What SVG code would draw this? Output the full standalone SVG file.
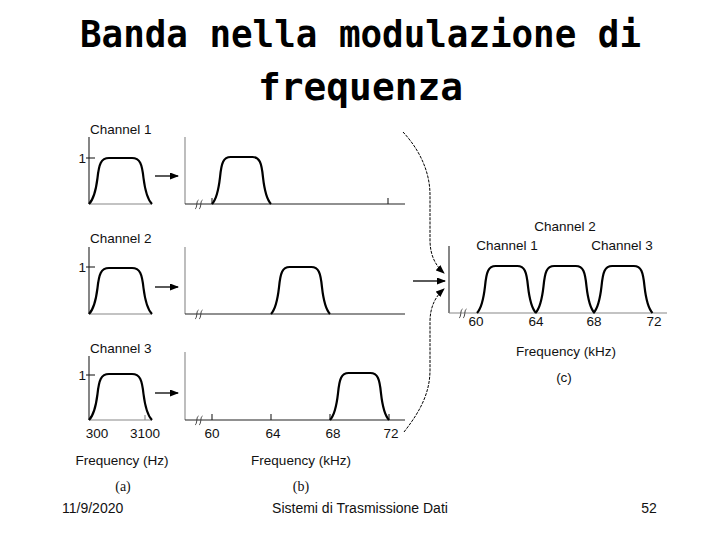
<svg xmlns="http://www.w3.org/2000/svg" width="720" height="540" viewBox="0 0 720 540">
<defs>
<style>
.lbl{font-family:"Liberation Sans",Arial,sans-serif;font-size:13.5px;fill:#111}
.cap{font-family:"Liberation Serif","Times New Roman",serif;font-size:14px;fill:#111}
.foot{font-family:"Liberation Sans",Arial,sans-serif;font-size:14px;fill:#111}
.title{font-family:"DejaVu Sans Mono",monospace;font-weight:bold;font-size:38px;fill:#000}
.pulse{fill:none;stroke:#000;stroke-width:2.2;stroke-linejoin:round}
.ax{stroke:#222;stroke-width:1.1;fill:none}
.axg{stroke:#888;stroke-width:1.1;fill:none}
.brk{stroke:#333;stroke-width:0.9;fill:none}
.arr{stroke:#000;stroke-width:1.3;fill:none}
.carr{stroke:#000;stroke-width:1;fill:none;stroke-dasharray:3 1.2}
</style>
<path id="pA" d="M0,0 C4,-4 7,-14 8.5,-26 C10,-40 12,-46 20,-46 L43,-46 C51,-46 53,-40 54.5,-26 C56,-14 59,-4 63,0"/>
<path id="pB" d="M0,0 C3.8,-4 6.6,-14.3 8,-26.6 C9.4,-40.9 11.3,-47 18.7,-47 L40.3,-47 C47.7,-47 49.6,-40.9 51,-26.6 C52.4,-14.3 55.2,-4 59,0"/>
<marker id="ah" markerWidth="9" markerHeight="7" refX="8" refY="3.5" orient="auto" markerUnits="userSpaceOnUse">
<path d="M0,0 L9,3.5 L0,7 Z" fill="#000"/>
</marker>
</defs>
<rect width="720" height="540" fill="#fff"/>

<g id="title">
<text class="title" x="360.5" y="47" text-anchor="middle" textLength="561" lengthAdjust="spacingAndGlyphs">Banda nella modulazione di</text>
<text class="title" x="360.5" y="100" text-anchor="middle" textLength="205" lengthAdjust="spacingAndGlyphs">frequenza</text>
</g>

<g id="panel-a-ch1">
<text class="lbl" x="90" y="134">Channel 1</text>
<line class="ax" x1="89" y1="137" x2="89" y2="204"/>
<line class="axg" x1="89" y1="204" x2="152" y2="204"/>
<line class="ax" x1="86" y1="158" x2="95" y2="158"/>
<text class="lbl" x="86" y="162.5" text-anchor="end">1</text>
<use href="#pA" class="pulse" transform="translate(89,204)"/>
</g>
<g id="panel-a-ch2">
<text class="lbl" x="90" y="243">Channel 2</text>
<line class="ax" x1="89" y1="247" x2="89" y2="314"/>
<line class="axg" x1="89" y1="314" x2="152" y2="314"/>
<line class="ax" x1="86" y1="267" x2="95" y2="267"/>
<text class="lbl" x="86" y="271.5" text-anchor="end">1</text>
<use href="#pA" class="pulse" transform="translate(89,314)"/>
</g>
<g id="panel-a-ch3">
<text class="lbl" x="90" y="353">Channel 3</text>
<line class="ax" x1="89" y1="356" x2="89" y2="420"/>
<line class="axg" x1="89" y1="420" x2="152" y2="420"/>
<line class="axg" x1="145" y1="415" x2="145" y2="420"/>
<line class="ax" x1="86" y1="375" x2="95" y2="375"/>
<text class="lbl" x="86" y="379.5" text-anchor="end">1</text>
<use href="#pA" class="pulse" transform="translate(89,420)"/>
<text class="lbl" x="97" y="438" text-anchor="middle">300</text>
<text class="lbl" x="145" y="438" text-anchor="middle">3100</text>
<text class="lbl" x="122" y="465" text-anchor="middle">Frequency (Hz)</text>
<text class="cap" x="123" y="491" text-anchor="middle">(a)</text>
</g>

<g id="panel-b-ch1">
<line class="axg" x1="185" y1="137" x2="185" y2="204"/>
<line class="ax" x1="185" y1="204" x2="405" y2="204"/>
<path class="brk" d="M195,209 C197.5,208 196,201 198.5,200 M199,209 C201.5,208 200,201 202.5,200"/>
<line class="ax" x1="212" y1="198" x2="212" y2="204"/>
<line class="ax" x1="388" y1="198" x2="388" y2="204"/>
<use href="#pB" class="pulse" transform="translate(212,204)"/>
</g>
<g id="panel-b-ch2">
<line class="axg" x1="185" y1="247" x2="185" y2="314"/>
<line class="ax" x1="185" y1="314" x2="405" y2="314"/>
<path class="brk" d="M195,319 C197.5,318 196,311 198.5,310 M199,319 C201.5,318 200,311 202.5,310"/>
<use href="#pB" class="pulse" transform="translate(271,314)"/>
</g>
<g id="panel-b-ch3">
<line class="axg" x1="185" y1="352" x2="185" y2="420"/>
<line class="ax" x1="185" y1="420" x2="405" y2="420"/>
<path class="brk" d="M195,425 C197.5,424 196,417 198.5,416 M199,425 C201.5,424 200,417 202.5,416"/>
<line class="ax" x1="212" y1="414" x2="212" y2="420"/>
<line class="ax" x1="271" y1="414" x2="271" y2="420"/>
<line class="ax" x1="330" y1="414" x2="330" y2="420"/>
<line class="ax" x1="389" y1="414" x2="389" y2="420"/>
<use href="#pB" class="pulse" transform="translate(330,420)"/>
<text class="lbl" x="212" y="438" text-anchor="middle">60</text>
<text class="lbl" x="273" y="438" text-anchor="middle">64</text>
<text class="lbl" x="333" y="438" text-anchor="middle">68</text>
<text class="lbl" x="391" y="438" text-anchor="middle">72</text>
<text class="lbl" x="301" y="465" text-anchor="middle">Frequency (kHz)</text>
<text class="cap" x="301" y="491" text-anchor="middle">(b)</text>
</g>

<g id="panel-c">
<text class="lbl" x="565" y="231" text-anchor="middle">Channel 2</text>
<text class="lbl" x="507" y="250" text-anchor="middle">Channel 1</text>
<text class="lbl" x="622" y="250" text-anchor="middle">Channel 3</text>
<line class="ax" x1="449" y1="246" x2="449" y2="313"/>
<line class="axg" x1="449" y1="313" x2="667" y2="313"/>
<path class="brk" d="M459,318 C461.5,317 460,310 462.5,309 M463,318 C465.5,317 464,310 466.5,309"/>
<use href="#pB" class="pulse" transform="translate(477,313)"/>
<use href="#pB" class="pulse" transform="translate(535.5,313)"/>
<use href="#pB" class="pulse" transform="translate(593.5,313)"/>
<text class="lbl" x="476" y="326" text-anchor="middle">60</text>
<text class="lbl" x="536" y="326" text-anchor="middle">64</text>
<text class="lbl" x="594" y="326" text-anchor="middle">68</text>
<text class="lbl" x="654" y="326" text-anchor="middle">72</text>
<text class="lbl" x="566" y="356" text-anchor="middle">Frequency (kHz)</text>
<text class="lbl" x="564" y="382" text-anchor="middle">(c)</text>
</g>

<g id="connectors">
<line class="arr" x1="155" y1="176" x2="178" y2="176" marker-end="url(#ah)"/>
<line class="arr" x1="155" y1="287" x2="178" y2="287" marker-end="url(#ah)"/>
<line class="arr" x1="155" y1="393" x2="178" y2="393" marker-end="url(#ah)"/>
<line class="arr" x1="413" y1="281" x2="445" y2="281" marker-end="url(#ah)"/>
<path class="carr" d="M403,132 C418,148 430,170 430,195 L430,240 C430,256 436,266 444,273" marker-end="url(#ah)"/>
<path class="carr" d="M404,432 C418,414 430,395 430,370 L430,322 C430,306 436,296 444,289" marker-end="url(#ah)"/>
</g>

<g id="footer">
<text class="foot" x="62" y="513">11/9/2020</text>
<text class="foot" x="360" y="513" text-anchor="middle">Sistemi di Trasmissione Dati</text>
<text class="foot" x="649" y="513" text-anchor="middle">52</text>
</g>
</svg>
